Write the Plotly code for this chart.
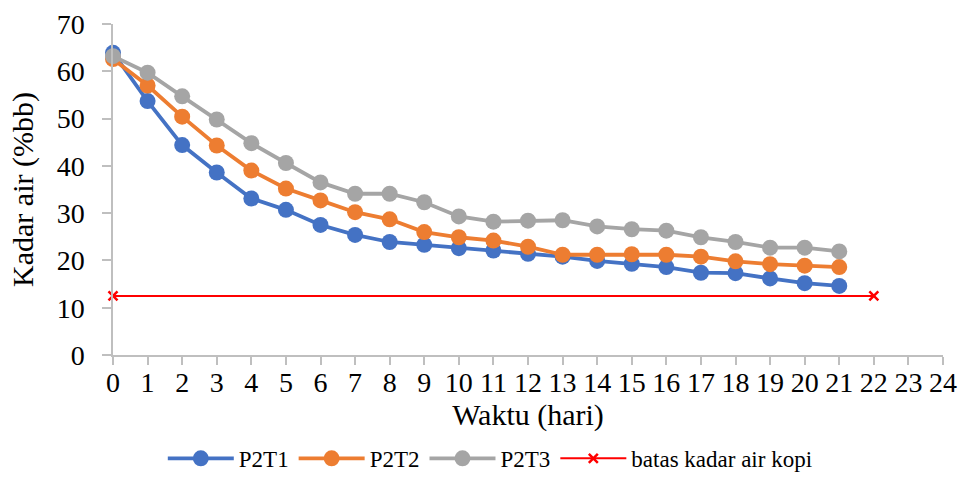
import plotly.graph_objects as go

days = list(range(22))
p2t1 = [63.9, 53.7, 44.4, 38.6, 33.1, 30.7, 27.5, 25.4, 23.9, 23.3, 22.6, 22.1,
        21.4, 20.8, 19.9, 19.3, 18.6, 17.4, 17.3, 16.2, 15.2, 14.6]
p2t2 = [62.6, 57.0, 50.4, 44.3, 39.0, 35.2, 32.7, 30.2, 28.7, 26.0, 24.9, 24.2,
        22.9, 21.2, 21.2, 21.3, 21.2, 20.8, 19.8, 19.2, 18.9, 18.6]
p2t3 = [63.2, 59.7, 54.7, 49.8, 44.8, 40.6, 36.5, 34.1, 34.1, 32.3, 29.3, 28.2,
        28.4, 28.5, 27.2, 26.6, 26.3, 24.9, 23.9, 22.7, 22.7, 21.9]
limit_x = [0, 22]
limit_y = [12.5, 12.5]
x_ticks = list(range(25))
y_ticks = [0, 10, 20, 30, 40, 50, 60, 70]

font = "Times New Roman, Liberation Serif, serif"
axis_grey = "#BFBFBF"

fig = go.Figure()
for name, vals, col in [("P2T1", p2t1, "#4472C4"),
                        ("P2T2", p2t2, "#ED7D31"),
                        ("P2T3", p2t3, "#A5A5A5")]:
    fig.add_trace(go.Scatter(
        x=days, y=vals, name=name, mode="lines+markers",
        line=dict(color=col, width=3.8),
        marker=dict(color=col, size=16),
        cliponaxis=False,
    ))
fig.add_trace(go.Scatter(
    x=limit_x, y=limit_y, name="batas kadar air kopi", mode="lines+markers",
    line=dict(color="#FF0000", width=2),
    marker=dict(color="#FF0000", symbol="x-thin", size=9,
                line=dict(color="#FF0000", width=2.5)),
    cliponaxis=False,
))

fig.update_layout(
    width=966, height=479,
    margin=dict(l=113, r=23, t=24, b=124, autoexpand=False),
    paper_bgcolor="white", plot_bgcolor="white",
    font=dict(family=font, color="#000000"),
    showlegend=True,
    legend=dict(orientation="h", x=0.06, xanchor="left",
                yref="container", y=0.088, yanchor="top",
                font=dict(size=23, family=font),
                itemwidth=66, traceorder="normal"),
)
fig.update_xaxes(
    range=[0, 24], tickmode="array", tickvals=x_ticks,
    ticktext=[str(t) for t in x_ticks],
    showgrid=False, zeroline=False, automargin=False,
    showline=True, linecolor=axis_grey, linewidth=1.5,
    ticks="outside", ticklen=8, tickcolor=axis_grey, tickwidth=1.5,
    ticklabelstandoff=-6,
    tickfont=dict(size=28, family=font),
    title=dict(text="Waktu (hari)", font=dict(size=30, family=font), standoff=0),
)
fig.update_yaxes(
    range=[0, 70], tickmode="array", tickvals=y_ticks,
    showgrid=False, zeroline=False, automargin=False,
    showline=True, linecolor=axis_grey, linewidth=1.5,
    ticks="outside", ticklen=9, tickcolor=axis_grey, tickwidth=1.5,
    ticklabelstandoff=12,
    tickfont=dict(size=28, family=font),
    title=dict(text="Kadar air (%bb)", font=dict(size=30, family=font), standoff=14),
)

fig.write_html("out.html")
